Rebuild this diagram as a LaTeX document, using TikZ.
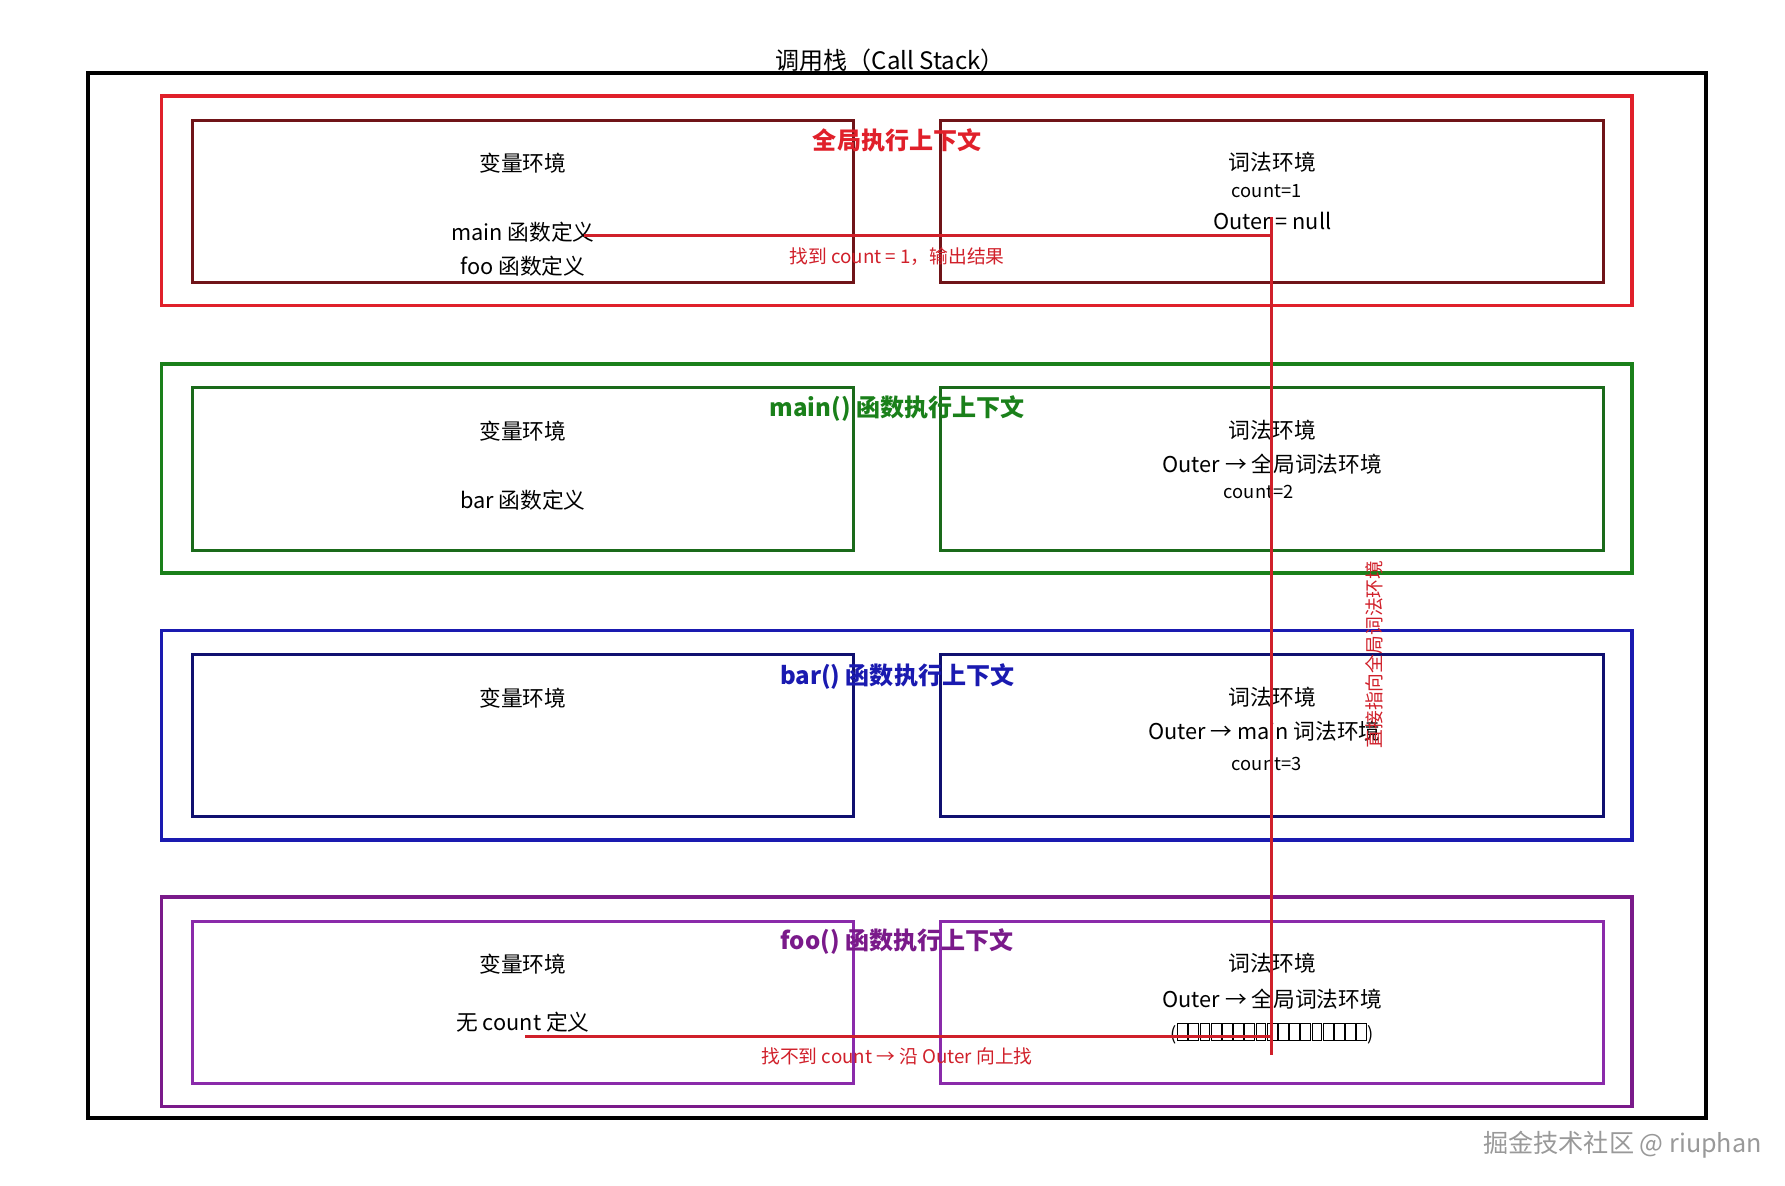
\documentclass[tikz,border=0pt]{standalone}
\usepackage{fontspec}
\setmainfont{Noto Sans CJK SC}
\begin{document}
\begin{tikzpicture}[x=0.5pt,y=-0.5pt,
  txt/.style={font=\fontsize{9.5}{12}\selectfont,inner sep=0pt,anchor=center},
  small/.style={font=\fontsize{8}{10}\selectfont,inner sep=0pt},
  ttl/.style={font=\fontsize{10.5}{13}\selectfont,inner sep=0pt},
  lbl/.style={font=\fontsize{8.2}{10}\selectfont,inner sep=0pt,text=lred},
  conn/.style={draw=lred,line width=1.3pt}]
\definecolor{lred}{HTML}{D0202A}
\definecolor{cR}{HTML}{E0202A}\definecolor{iR}{HTML}{701418}
\definecolor{cG}{HTML}{1A801A}\definecolor{iG}{HTML}{1A6A1A}
\definecolor{cB}{HTML}{1A1AB0}\definecolor{iB}{HTML}{101070}
\definecolor{cP}{HTML}{7A1A8A}\definecolor{iP}{HTML}{8A2AAA}
\useasboundingbox (0,0) rectangle (1560,1036);
\draw[line width=1.6pt] (77,64) rectangle (1491,977);
\node[ttl] (title) at (778,53) {调用栈（Call Stack）};
\foreach \y/\c/\i in {84/cR/iR,318/cG/iG,551/cB/iB,784/cP/iP}{
  \draw[\c,line width=1.6pt] (141,\y) rectangle (1426,\y+183);
  \draw[\i,line width=1.3pt] (168,\y+21) rectangle (746,\y+163);
  \draw[\i,line width=1.3pt] (822,\y+21) rectangle (1401,\y+163);
  \node[txt] at (457,\y+59) {变量环境};
  \node[txt] at (1112,\y+58) {词法环境};
}
\node[ttl,text=cR] (t1) at (784,123) {\bfseries 全局执行上下文};
\node[ttl,text=cG] (t2) at (784,357) {\bfseries main() 函数执行上下文};
\node[ttl,text=cB] (t3) at (784,591) {\bfseries bar() 函数执行上下文};
\node[ttl,text=cP] (t4) at (784,823) {\bfseries foo() 函数执行上下文};
% left texts
\node[txt] (mainf) at (457,203) {main 函数定义};
\node[txt] at (457,233) {foo 函数定义};
\node[txt] at (457,437) {bar 函数定义};
\node[txt] (nocount) at (457,893) {无 count 定义};
% right texts
\node[small] at (1107,167) {count=1};
\node[txt] (onull) at (1112,193) {Outer = null};
\node[txt] at (1112,406) {Outer → 全局词法环境};
\node[small] at (1100,430) {count=2};
\node[txt] at (1105,639) {Outer → main 词法环境};
\node[small] at (1107,668) {count=3};
\node[txt] at (1112,873) {Outer → 全局词法环境};
\node[small] (tofu) at (1112,903) {(\foreach \k in {1,...,17}{\tikz[baseline=0pt]\draw[line width=0.4pt] (0,-0.3pt) rectangle (4.3pt,7.5pt);\hspace{0.2pt}})};
% connectors
\coordinate (a1) at (510,206); \coordinate (a2) at (1111,206);
\coordinate (v1) at (1111,190); \coordinate (v2) at (1111,922);
\coordinate (b1) at (459,906); \coordinate (b2) at (1112,906);
\draw[conn] (a1) -- (a2);
\draw[conn] (v1) -- (v2);
\draw[conn] (b1) -- (b2);
\node[lbl] at (784,224) {找到 count = 1，输出结果};
\node[lbl] at (784,923) {找不到 count → 沿 Outer 向上找};
\node[lbl,rotate=90] at (1201,572) {直接指向全局词法环境};
\node[font=\fontsize{11}{13}\selectfont,text=gray!80,inner sep=0pt] (wm) at (1418,1000) {掘金技术社区 @ riuphan};
\end{tikzpicture}
\end{document}
